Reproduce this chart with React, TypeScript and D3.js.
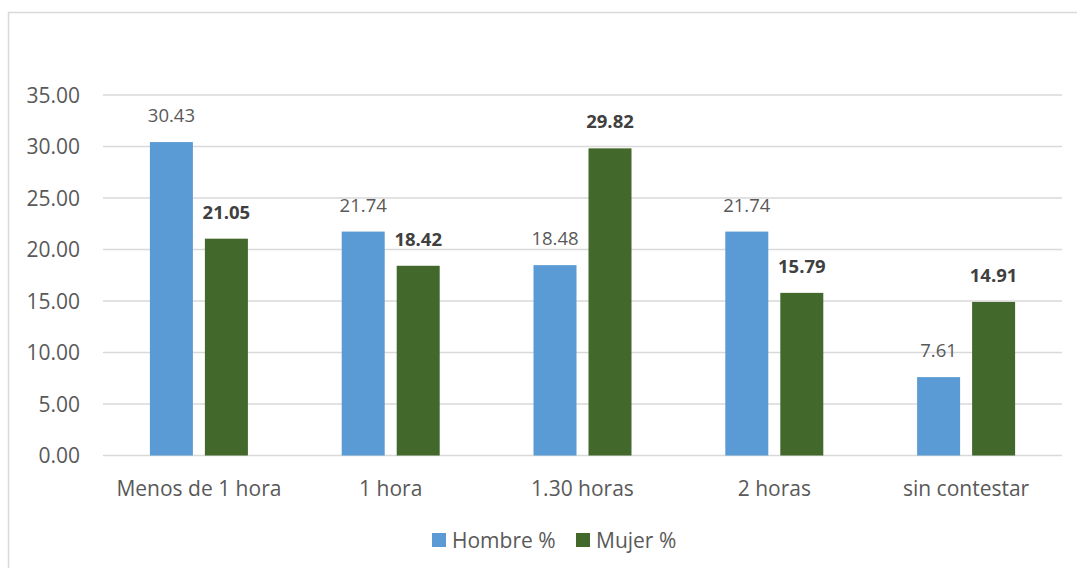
import React from "react";
import * as d3 from "d3";

const categories = ["Menos de 1 hora", "1 hora", "1.30 horas", "2 horas", "sin contestar"];
const hombre = [30.43, 21.74, 18.48, 21.74, 7.61];
const mujer = [21.05, 18.42, 29.82, 15.79, 14.91];
const yTicks = [0, 5, 10, 15, 20, 25, 30, 35];
const seriesNames = ["Hombre %", "Mujer %"];

const W = 1077;
const H = 568;
const FONT = "'Open Sans', sans-serif";
const TEXT = "#595959";
const BLUE = "#5B9BD5";
const GREEN = "#43682B";
const GRID = "#D9D9D9";

export default function App() {
  const left = 103, right = 1062, top = 95, bottom = 455.5;
  const x = d3.scaleBand<string>().domain(categories).range([left, right]).paddingInner(0).paddingOuter(0);
  const y = d3.scaleLinear().domain([0, 35]).range([bottom, top]);
  const barW = 43;
  const gap = 12;
  const series = [
    { name: seriesNames[0], values: hombre, color: BLUE, bold: false },
    { name: seriesNames[1], values: mujer, color: GREEN, bold: true },
  ];
  return (
    <div style={{ position: "absolute", left: 0, top: 0 }}>
      <svg width={W} height={H} style={{ display: "block" }}>
        <rect x={0} y={0} width={W} height={H} fill="#fff" />
        <rect x={8.5} y={12.5} width={W + 10} height={H + 10} fill="none" stroke={GRID} strokeWidth={1.5} />
        {yTicks.map((t) => (
          <g key={t}>
            <line x1={left} x2={right} y1={y(t)} y2={y(t)} stroke={GRID} strokeWidth={1.3} />
            <text x={80} y={y(t) + 7.5} textAnchor="end" fontFamily={FONT} fontSize={21} fill={TEXT}>
              {t.toFixed(2)}
            </text>
          </g>
        ))}
        {categories.map((c, i) => {
          const cx = (x(c) as number) + x.bandwidth() / 2;
          return (
            <g key={c}>
              {series.map((s, si) => {
                const bx = si === 0 ? cx - gap / 2 - barW : cx + gap / 2;
                const v = s.values[i];
                return (
                  <g key={s.name}>
                    <rect x={bx} y={y(v)} width={barW} height={bottom - y(v)} fill={s.color} />
                    <text
                      x={bx + barW / 2}
                      y={y(v) - 20}
                      textAnchor="middle"
                      fontFamily={FONT}
                      fontSize={18.5}
                      fontWeight={s.bold ? 700 : 400}
                      fill={s.bold ? "#404040" : TEXT}
                    >
                      {v.toFixed(2)}
                    </text>
                  </g>
                );
              })}
              <text x={cx} y={495.5} textAnchor="middle" fontFamily={FONT} fontSize={21} fill={TEXT}>
                {c}
              </text>
            </g>
          );
        })}
        <g>
          <rect x={432} y={533} width={14} height={14} fill={BLUE} />
          <text x={452} y={547.5} fontFamily={FONT} fontSize={21} fill={TEXT}>{seriesNames[0]}</text>
          <rect x={576} y={533} width={14} height={14} fill={GREEN} />
          <text x={596} y={547.5} fontFamily={FONT} fontSize={21} fill={TEXT}>{seriesNames[1]}</text>
        </g>
      </svg>
    </div>
  );
}
